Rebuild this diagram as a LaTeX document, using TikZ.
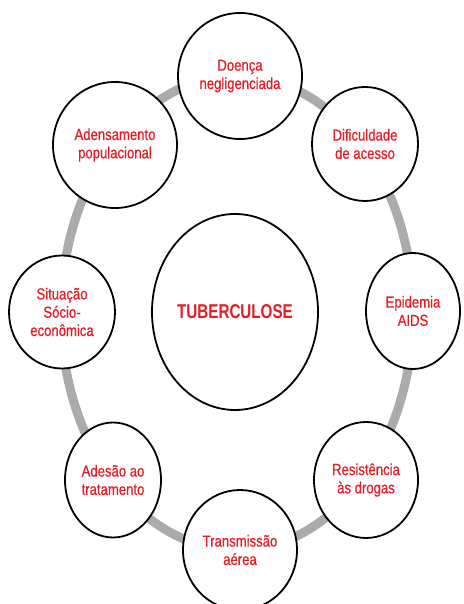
\documentclass[tikz,border=0pt]{standalone}
\usepackage{fontspec}
\usetikzlibrary{shapes.geometric}
\newfontfamily\labelfont{Liberation Sans}[FakeStretch=0.82, FakeBold=0.6]
\newfontfamily\titlefont{Liberation Sans Bold}[FakeStretch=0.76]
\definecolor{labelred}{HTML}{E41E26}
\definecolor{ringgray}{HTML}{ABABAB}
\tikzset{
  ring/.style={ellipse, draw=ringgray, line width=9pt, inner sep=0pt},
  factor/.style={ellipse, draw=black, line width=1.8pt, fill=white, inner sep=0pt,
    align=center, text=labelred, font=\labelfont\fontsize{16}{18.3}\selectfont},
  hub/.style={ellipse, draw=black, line width=1.8pt, fill=white, inner sep=0pt,
    text=labelred, font=\titlefont\fontsize{20}{22}\selectfont}
}
\begin{document}
\begin{tikzpicture}[x=1pt,y=1pt]
  \useasboundingbox (0,0) rectangle (463,604);
  \clip (0,0) rectangle (463,604);
  \fill[white] (0,0) rectangle (463,604);

  % grey ring linking the factors
  \node[ring, minimum width=352pt, minimum height=474pt] (cycle) at (237,291) {};

  % central disease
  \node[hub, minimum width=166pt, minimum height=196pt] (tb) at (235,292) {TUBERCULOSE};

  % surrounding factors
  \node[factor, minimum width=124pt, minimum height=126pt] (doenca)   at (240,528) {Doença\\negligenciada};
  \node[factor, minimum width=106pt, minimum height=114pt] (dific)    at (365,460) {Dificuldade\\de acesso};
  \node[factor, minimum width=94pt,  minimum height=116pt] (epid)     at (413,293) {Epidemia\\AIDS};
  \node[factor, minimum width=104pt, minimum height=116pt] (resist)   at (366,124) {Resistência\\às drogas};
  \node[factor, minimum width=114pt, minimum height=120pt] (transm)   at (240,54)  {Transmissão\\aérea};
  \node[factor, minimum width=96pt,  minimum height=115pt] (adesao)   at (113,124) {Adesão ao\\tratamento};
  \node[factor, minimum width=106pt, minimum height=113pt] (situacao) at (62,292)  {Situação\\Sócio-\\econômica};
  \node[factor, minimum width=124pt, minimum height=126pt] (adens)    at (115,459) {Adensamento\\populacional};
\end{tikzpicture}
\end{document}
